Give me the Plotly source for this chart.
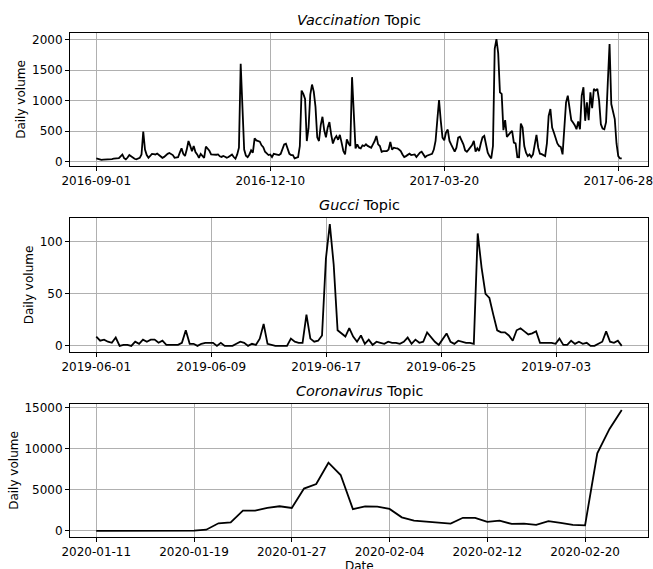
import pandas as pd
import plotly.graph_objects as go

# ---------------- data ----------------
vacc_start = "2016-09-01"
vacc_values = [
    55, 45, 30, 32, 35, 35, 38, 40, 40, 45,
    50, 52, 55, 60, 90, 120, 60, 40, 70, 110,
    90, 65, 50, 40, 50, 65, 120, 495, 200, 110,
    65, 100, 130, 125, 120, 135, 110, 95, 65, 80,
    110, 130, 143, 125, 110, 65, 70, 75, 150, 220,
    130, 95, 200, 340, 260, 175, 258, 160, 120, 65,
    130, 90, 65, 250, 220, 180, 120, 115, 110, 115,
    120, 90, 80, 95, 83, 65, 77, 100, 120, 78,
    50, 120, 230, 1606, 726, 200, 100, 77, 120, 187,
    150, 385, 350, 345, 330, 270, 240, 165, 130, 110,
    120, 77, 130, 125, 120, 110, 130, 230, 286, 297,
    200, 130, 110, 110, 55, 65, 77, 258, 1166, 1111,
    1028, 340, 550, 1100, 1265, 1150, 900, 400, 340, 600,
    737, 520, 400, 560, 650, 450, 300, 380, 420, 360,
    440, 313, 176, 121, 368, 300, 258, 1386, 726, 220,
    286, 231, 220, 270, 258, 286, 260, 240, 231, 286,
    340, 423, 286, 258, 165, 176, 170, 176, 200, 325,
    200, 231, 225, 220, 200, 176, 120, 77, 93, 120,
    132, 110, 110, 120, 77, 120, 150, 165, 120, 77,
    100, 110, 120, 132, 200, 341, 682, 1012, 671, 396,
    352, 478, 528, 341, 280, 220, 165, 231, 396, 410,
    350, 286, 187, 165, 200, 231, 275, 341, 165, 220,
    176, 300, 400, 423, 300, 150, 93, 55, 258, 1850,
    2010, 1780, 1138, 1111, 517, 682, 407, 451, 478, 506,
    313, 300, 77, 75, 627, 561, 258, 148, 93, 121,
    77, 121, 286, 440, 231, 132, 125, 110, 93, 300,
    750, 863, 561, 480, 400, 300, 258, 242, 121, 561,
    973, 1083, 918, 682, 643, 600, 533, 660, 533, 1083,
    1221, 671, 973, 682, 1138, 880, 1193, 1166, 1193, 1001,
    616, 545, 533, 650, 1300, 1930, 946, 808, 698, 300,
    93, 55, 55,
]
vacc_ticks = ["2016-09-01", "2016-12-10", "2017-03-20", "2017-06-28"]

gucci_start = "2019-06-01"
gucci_step = "390min"
gucci_values = [
    9, 5, 6, 4, 3, 8, 0, 1, 1, 0, 4, 2, 6, 4, 6, 6, 3, 5, 1, 1, 1, 1, 3, 15,
    2, 2, 0, 2, 3, 3, 3, 0, 3, 0, 0, 0, 2, 4, 3, 0, 2, 1, 7, 21, 2, 1,
    0, 0, 0, 0, 7, 4, 3, 3, 30, 7, 4, 5, 10, 84, 117, 78, 15, 12, 9, 17, 9, 4,
    10, 2, 6, 1, 4, 3, 2, 4, 3, 3, 2, 4, 8, 2, 6, 3, 4, 13, 8, 4, 1, 6,
    12, 4, 2, 5, 4, 3, 3, 2, 108, 75, 50, 46, 30, 15, 13, 13, 10, 5, 15, 17,
    14, 11, 12, 14, 3, 3, 3, 3, 2, 7, 1, 1, 5, 2, 4, 2, 3, 0, 0, 2, 4, 14, 4,
    3, 5, 0,
]
gucci_ticks = ["2019-06-01", "2019-06-09", "2019-06-17", "2019-06-25", "2019-07-03"]

corona_start = "2020-01-11"
corona_values = [
    0, 1, 2, 3, 5, 10, 20, 40, 45, 150,
    930, 1050, 2470, 2470, 2800, 3000, 2800, 5150, 5700, 8300,
    6800, 2650, 3000, 2950, 2680, 1660, 1260, 1135, 970, 890,
    1600, 1600, 1100, 1250, 850, 900, 730, 1200, 970, 730,
    690, 9450, 12400, 14700,
]
corona_ticks = ["2020-01-11", "2020-01-19", "2020-01-27", "2020-02-04",
                "2020-02-12", "2020-02-20"]

titles = ["<i>Vaccination</i> Topic", "<i>Gucci</i> Topic", "<i>Coronavirus</i> Topic"]
ytick_sets = [[0, 500, 1000, 1500, 2000], [0, 50, 100], [0, 5000, 10000, 15000]]
x_label = "Date"
y_label = "Daily volume"

vacc_x = pd.date_range(vacc_start, periods=len(vacc_values), freq="D")
gucci_x = pd.date_range(gucci_start, periods=len(gucci_values), freq=gucci_step)
corona_x = pd.date_range(corona_start, periods=len(corona_values), freq="D")

series = [(vacc_x, vacc_values, vacc_ticks),
          (gucci_x, gucci_values, gucci_ticks),
          (corona_x, corona_values, corona_ticks)]

# ---------------- layout geometry ----------------
W, H = 653, 569
x_dom = [70 / W, 648 / W]
y_doms = [[1 - 166 / H, 1 - 33 / H],
          [1 - 352 / H, 1 - 218 / H],
          [1 - 537 / H, 1 - 404 / H]]

fig = go.Figure()
layout = dict(
    width=W, height=H,
    margin=dict(l=0, r=0, t=0, b=0),
    paper_bgcolor="white", plot_bgcolor="white",
    showlegend=False,
    font=dict(family="DejaVu Sans", color="black", size=12),
    annotations=[],
)

common = dict(showline=True, linecolor="black", linewidth=1, mirror=True,
              ticks="outside", ticklen=4, tickwidth=1, tickcolor="black",
              showgrid=True, gridcolor="#b0b0b0", gridwidth=0.8,
              zeroline=False, tickfont=dict(size=12, color="black"),
              automargin=False, ticklabeloverflow="allow")

for i, (xs, ys, xt) in enumerate(series):
    n = "" if i == 0 else str(i + 1)
    fig.add_trace(go.Scatter(x=xs, y=ys, mode="lines",
                             line=dict(color="black", width=1.8),
                             xaxis="x" + n, yaxis="y" + n, hoverinfo="skip"))
    span = xs[-1] - xs[0]
    xr = [str(xs[0] - span * 0.05), str(xs[-1] + span * 0.05)]
    ymin, ymax = min(ys), max(ys)
    yspan = ymax - ymin
    yr = [ymin - 0.05 * yspan, ymax + 0.05 * yspan]
    xa = dict(common, type="date", domain=x_dom, range=xr, tickvals=xt,
              ticktext=xt, anchor="y" + n)
    ya = dict(common, domain=y_doms[i], range=yr, tickvals=ytick_sets[i],
              tickformat="d", anchor="x" + n,
              title=dict(text=y_label, font=dict(size=12), standoff=3))
    layout["xaxis" + n] = xa
    layout["yaxis" + n] = ya
    layout["annotations"].append(dict(
        text=titles[i], x=(x_dom[0] + x_dom[1]) / 2, y=y_doms[i][1],
        xref="paper", yref="paper", xanchor="center", yanchor="bottom",
        yshift=3, showarrow=False, font=dict(size=14.4, color="black")))

# x-axis label of the bottom panel (partly below the page edge, as in the reference)
layout["annotations"].append(dict(
    text=x_label, x=(x_dom[0] + x_dom[1]) / 2, y=1 - 557 / H,
    xref="paper", yref="paper", xanchor="center", yanchor="top",
    showarrow=False, font=dict(size=12, color="black")))

fig.update_layout(**layout)
fig.write_html("out.html")
